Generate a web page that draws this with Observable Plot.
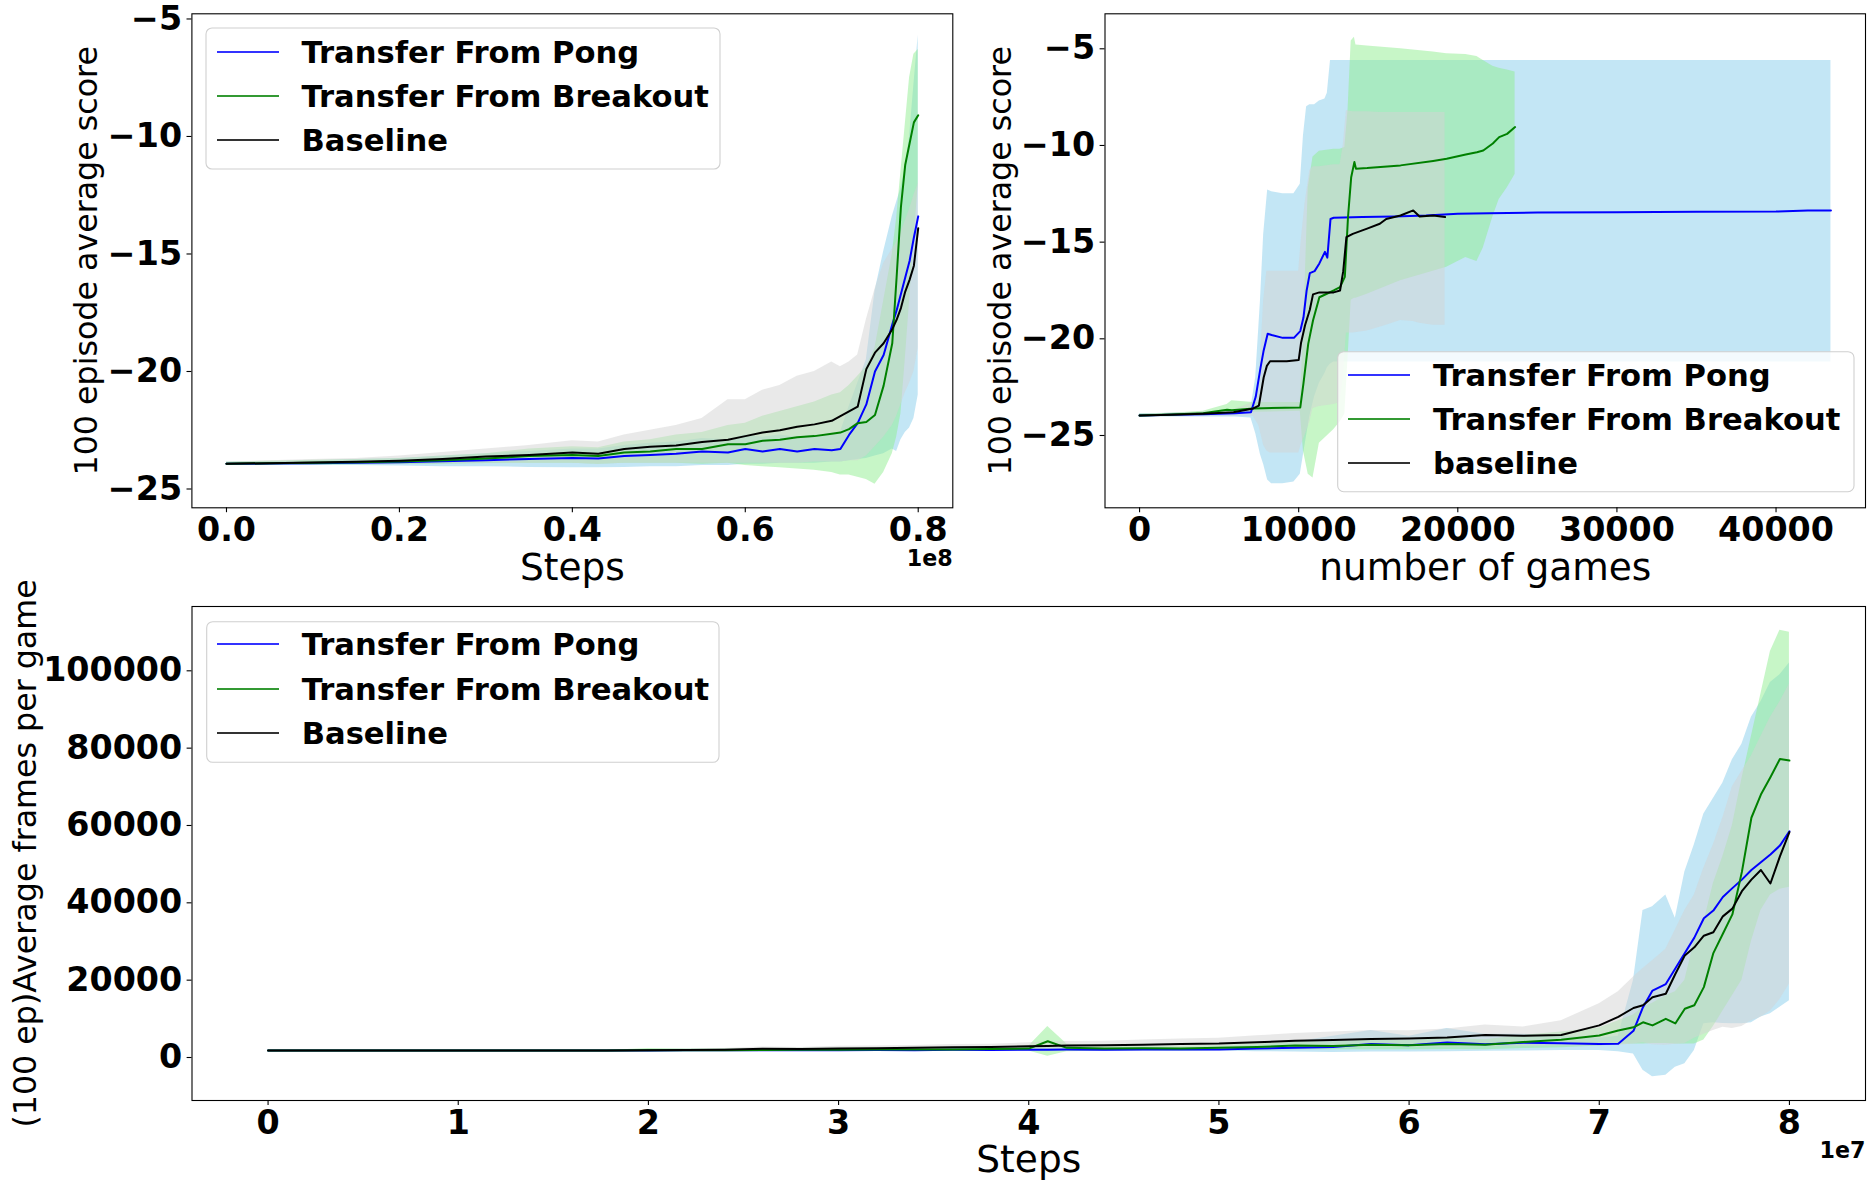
<!DOCTYPE html>
<html>
<head>
<meta charset="utf-8">
<script src="https://cdn.jsdelivr.net/npm/d3@7"></script>
<script src="https://cdn.jsdelivr.net/npm/@observablehq/plot@0.6"></script>
<style>
html, body { margin: 0; padding: 0; background: #fff; }
#fig { position: relative; width: 1875px; height: 1187px; overflow: hidden; background: #fff; font-family: 'DejaVu Sans', sans-serif; }
.panel { position: absolute; }
.panel svg { display: block; overflow: visible; max-width: none !important; }
#overlay { position: absolute; left: 0; top: 0; pointer-events: none; }
</style>
</head>
<body>
<div id="fig"></div>
<script>
// ---------------- Top-left: score vs steps (steps in millions) ----------------
const tlSteps = [0,5,10,15,20,25,30,35,40,43,46,49,52,55,58,60,62,64,66,68,70,71,72,73,74,75,76,77,77.5,78,78.5,79,79.5,80];
const tlPongMean = [-23.93,-23.92,-23.9,-23.88,-23.86,-23.82,-23.78,-23.72,-23.68,-23.7,-23.6,-23.55,-23.5,-23.4,-23.45,-23.3,-23.4,-23.3,-23.4,-23.3,-23.35,-23.3,-22.7,-22.2,-21.4,-20.0,-19.3,-18.0,-17.4,-16.7,-16.0,-15.3,-14.3,-13.4];
const tlPongLo = [-24.0,-24.0,-24.0,-24.0,-24.02,-24.05,-24.05,-24.08,-24.1,-24.1,-24.08,-24.05,-24.05,-24.0,-24.0,-23.95,-23.95,-23.9,-23.9,-23.9,-23.85,-23.85,-23.8,-23.75,-23.7,-23.6,-23.5,-23.3,-23.4,-22.9,-22.6,-22.4,-22.0,-21.0];
const tlPongHi = [-23.86,-23.84,-23.8,-23.75,-23.7,-23.6,-23.5,-23.4,-23.3,-23.3,-23.15,-23.05,-23.0,-22.85,-22.9,-22.7,-22.8,-22.7,-22.8,-22.7,-22.7,-22.6,-21.5,-20.5,-19.5,-16.6,-14.9,-13.4,-12.8,-12.2,-11.3,-10.0,-7.8,-5.7];
const tlBrkMean = [-23.93,-23.9,-23.88,-23.86,-23.83,-23.78,-23.7,-23.6,-23.55,-23.6,-23.45,-23.4,-23.3,-23.3,-23.1,-23.1,-22.95,-22.9,-22.8,-22.75,-22.65,-22.6,-22.45,-22.2,-22.15,-21.85,-20.6,-18.8,-16.0,-13.0,-11.2,-10.3,-9.4,-9.1];
const tlBrkLo = [-24.0,-24.0,-23.98,-23.97,-23.96,-23.95,-23.92,-23.9,-23.9,-23.95,-23.9,-23.9,-23.9,-23.95,-23.9,-24.0,-24.05,-24.1,-24.15,-24.2,-24.3,-24.4,-24.4,-24.5,-24.6,-24.8,-24.3,-23.5,-22.8,-21.8,-19.5,-17.0,-14.5,-12.0];
const tlBrkHi = [-23.86,-23.82,-23.78,-23.75,-23.7,-23.6,-23.5,-23.3,-23.2,-23.25,-23.0,-22.9,-22.7,-22.6,-22.3,-22.2,-21.9,-21.7,-21.5,-21.3,-21.0,-20.9,-20.6,-20.2,-19.8,-19.0,-17.0,-15.0,-13.5,-11.5,-9.5,-7.5,-6.5,-6.3];
const tlBaseMean = [-23.93,-23.9,-23.87,-23.84,-23.8,-23.72,-23.62,-23.55,-23.45,-23.5,-23.3,-23.2,-23.15,-23.0,-22.9,-22.75,-22.6,-22.5,-22.35,-22.25,-22.1,-21.9,-21.7,-21.5,-19.9,-19.2,-18.8,-18.2,-17.8,-17.3,-16.6,-16.1,-15.5,-13.9];
const tlBaseLo = [-24.0,-23.98,-23.96,-23.95,-23.95,-23.93,-23.9,-23.9,-23.9,-23.95,-23.9,-23.9,-23.9,-23.9,-23.9,-23.9,-23.9,-23.9,-23.9,-23.85,-23.85,-23.85,-23.8,-23.8,-23.6,-23.2,-22.8,-22.3,-21.9,-21.4,-20.9,-20.5,-20.0,-19.0];
const tlBaseHi = [-23.86,-23.8,-23.75,-23.7,-23.6,-23.45,-23.3,-23.15,-22.95,-23.0,-22.7,-22.5,-22.3,-22.0,-21.2,-21.2,-20.8,-20.6,-20.2,-20.0,-19.6,-19.8,-19.6,-19.3,-17.8,-16.5,-15.4,-14.8,-14.5,-14.1,-13.6,-13.1,-12.5,-12.0];
const tlXTicks = [0,20,40,60,80];
const tlYTicks = [-25,-20,-15,-10,-5];

// ---------------- Top-right: score vs number of games ----------------
const trPongGames = [0,2000,4000,6000,7000,7300,7600,7800,8050,8300,9000,9700,10100,10300,10500,10700,11000,11300,11650,11800,12000,12200,14000,16000,18000,20000,22000,25000,30000,35000,40000,42000,43450];
const trPongMean = [-23.97,-23.93,-23.9,-23.85,-23.8,-23.0,-21.5,-20.6,-19.74,-19.8,-19.95,-19.95,-19.6,-18.9,-17.5,-16.6,-16.5,-16.1,-15.5,-15.8,-13.8,-13.74,-13.7,-13.67,-13.62,-13.53,-13.5,-13.47,-13.45,-13.43,-13.42,-13.36,-13.36];
const trPongLo = [-24.05,-24.05,-24.05,-24.05,-24.1,-24.9,-26.0,-26.5,-27.3,-27.5,-27.5,-27.4,-27.0,-26.0,-25.0,-24.0,-23.0,-22.3,-21.8,-21.5,-21.3,-21.2,-21.2,-21.2,-21.2,-21.2,-21.2,-21.2,-21.2,-21.2,-21.2,-21.2,-21.2];
const trPongHi = [-23.88,-23.85,-23.8,-23.75,-23.6,-22.0,-18.0,-14.6,-12.3,-12.4,-12.5,-12.5,-12.0,-9.5,-8.0,-7.9,-7.9,-7.7,-7.6,-7.3,-5.6,-5.6,-5.6,-5.6,-5.6,-5.6,-5.6,-5.6,-5.6,-5.6,-5.6,-5.6,-5.6];
const trBrkGames = [0,2000,4000,5500,5800,7150,10100,10300,10600,10900,11300,12200,12600,12900,13100,13300,13500,13600,14300,16400,18450,19300,20500,21200,21600,22200,22600,23100,23600];
const trBrkMean = [-23.97,-23.92,-23.85,-23.67,-23.7,-23.6,-23.55,-22.3,-20.26,-19.05,-17.85,-17.5,-17.33,-16.8,-13.7,-11.64,-10.86,-11.2,-11.17,-11.03,-10.8,-10.69,-10.47,-10.35,-10.26,-9.9,-9.57,-9.4,-9.05];
const trBrkLo = [-24.05,-24.0,-23.95,-23.9,-23.85,-23.8,-23.75,-25.8,-27.0,-27.2,-25.4,-24.7,-24.3,-23.9,-21.0,-18.0,-17.9,-17.9,-17.7,-17.0,-16.5,-16.3,-15.8,-16.0,-15.3,-13.7,-12.8,-12.2,-11.5];
const trBrkHi = [-23.9,-23.85,-23.75,-23.4,-23.2,-23.3,-23.3,-19.7,-12.2,-10.6,-10.3,-10.2,-10.2,-10.1,-8.2,-4.6,-4.4,-4.8,-4.85,-5.0,-5.17,-5.25,-5.3,-5.4,-5.6,-5.9,-6.0,-6.1,-6.2];
const trBaseGames = [0,2000,4000,5900,7150,7500,7800,8000,8200,9250,10000,10150,10400,10700,10900,11300,12200,12600,12800,13000,13400,14300,15100,15500,16400,17200,17600,18450,19200];
const trBaseMean = [-23.97,-23.93,-23.88,-23.8,-23.6,-23.45,-22.0,-21.4,-21.16,-21.16,-21.1,-20.2,-19.3,-18.5,-17.7,-17.6,-17.6,-17.5,-16.5,-14.74,-14.57,-14.3,-14.05,-13.8,-13.62,-13.36,-13.67,-13.62,-13.7];
const trBaseLo = [-24.05,-24.03,-24.0,-24.0,-24.0,-24.5,-25.5,-25.8,-25.9,-25.9,-25.9,-25.5,-25.0,-24.3,-23.6,-23.5,-23.4,-23.3,-22.0,-19.7,-19.7,-19.6,-19.4,-19.3,-19.05,-19.1,-19.2,-19.3,-19.3];
const trBaseHi = [-23.9,-23.85,-23.78,-23.65,-23.3,-22.5,-18.0,-16.5,-16.5,-16.5,-16.5,-15.0,-13.0,-11.3,-11.1,-11.1,-11.0,-11.0,-10.0,-8.2,-8.25,-8.25,-8.3,-8.3,-8.3,-8.3,-8.3,-8.3,-8.3];
const trXTicks = [0,10000,20000,30000,40000];
const trYTicks = [-25,-20,-15,-10,-5];

// ---------------- Bottom: frames per game vs steps (steps in millions) ----------------
const btSteps = [0,5,10,15,17.8,20,22,24,26,28,30,32,34,36,38,40,41,42,44,46,48,50,52,54,56,58,60,62,64,66,68,70,71,71.8,72.3,72.8,73.5,74,74.5,75,75.5,76,76.5,77,77.5,78,78.5,79,79.5,80];
const btPongMean = [1800,1800,1800,1800,1800,1800,1850,1850,1900,1850,1900,1950,1900,2000,1950,2000,2000,2050,2000,2100,2050,2100,2300,2500,2700,3500,3200,3900,3400,3800,3700,3500,3550,6900,13000,17300,19000,23000,27000,31000,36000,38000,41500,43800,46000,48500,50500,52500,54800,58500];
const btPongLo = [1800,1800,1800,1800,1800,1500,1550,1550,1600,1550,1600,1600,1550,1650,1600,1650,1650,1650,1600,1650,1600,1650,1500,1400,1300,1400,1400,1500,1600,1700,1800,1800,1500,900,-3300,-5000,-4600,-2500,-1600,1800,8700,9000,8800,8700,8700,9000,10500,11300,13000,14700];
const btPongHi = [1800,1800,1800,1800,1800,2100,2150,2150,2200,2150,2200,2300,2250,2400,2300,2400,2400,2450,2400,2600,2500,2700,3200,4000,5500,7000,5500,7500,6000,6000,5500,5000,5500,20000,38000,39000,42000,36000,48000,55000,63000,67000,71000,77000,81000,88000,92000,97000,99000,102000];
const btBrkMean = [1800,1800,1800,1800,1800,1900,1850,1900,1950,2000,2000,2050,2100,2100,2200,2300,4200,2500,2300,2400,2300,2500,2700,3100,3000,3300,3200,3500,3300,4000,4600,5700,7000,7800,9100,8300,10000,8800,12600,13500,18200,27000,32000,37000,48000,62000,68000,72500,77200,76800];
const btBrkLo = [1800,1800,1800,1800,1800,1500,1500,1550,1550,1600,1600,1600,1650,1650,1700,1700,300,1500,1700,1750,1700,1800,1900,2000,2000,2000,2000,2100,2000,2300,2500,3000,3400,3500,3500,3600,3600,3500,3500,3500,4500,8000,12000,16000,20000,30000,38000,42000,43500,44000];
const btBrkHi = [1800,1800,1800,1800,1800,2300,2200,2250,2350,2400,2400,2500,2550,2550,2700,2900,8000,3500,2900,3000,2900,3200,3500,4200,4000,4600,4400,4900,4600,5700,6600,7600,9500,11000,13000,14000,16000,17000,20000,30000,35000,45000,52000,60000,72000,83000,94000,105000,110500,110000];
const btBaseMean = [1800,1800,1800,1800,1800,1900,1950,2000,2250,2200,2350,2400,2500,2650,2700,2900,3000,3100,3150,3300,3500,3600,3950,4300,4500,4800,4900,5200,5800,5600,5800,8300,10500,12800,13500,15600,16500,21600,26400,28500,31500,32400,36500,38500,43000,46000,48500,45000,52000,58300];
const btBaseLo = [1800,1800,1800,1800,1800,1700,1700,1750,1800,1800,1850,1850,1900,1950,1950,2000,2000,2050,2100,2100,2200,2200,2300,2400,2400,2500,2500,2600,2700,2800,2900,3000,3200,3500,3800,3300,3200,3400,3600,5000,6000,7000,7800,7500,8000,9500,10400,12000,15000,19000];
const btBaseHi = [1800,1800,1800,1800,1800,2100,2200,2300,2700,2600,2900,2950,3100,3350,3450,3800,4000,4150,4200,4500,4800,5000,5600,6200,6600,7000,6900,7400,8400,7900,9500,13900,17000,20800,23000,25000,28000,33000,38000,42000,49000,55000,62000,70000,74000,78000,83000,88000,92000,96600];
const btXTicks = [0,10,20,30,40,50,60,70,80];
const btYTicks = [0,20000,40000,60000,80000,100000];

// ---------------- Legend labels ----------------
const labelsTop = ["Transfer From Pong", "Transfer From Breakout", "Baseline"];
const labelsTopRight = ["Transfer From Pong", "Transfer From Breakout", "baseline"];
const seriesColors = ["blue", "green", "black"];
const bandColors = ["skyblue", "lightgreen", "lightgray"];

function rows(xs, m, lo, hi) {
  return xs.map((x, i) => ({x, m: m[i], lo: lo[i], hi: hi[i]}));
}

function makePanel(cfg) {
  const marks = [];
  cfg.series.forEach((s, k) => marks.push(Plot.areaY(s, {x: "x", y1: "lo", y2: "hi", fill: bandColors[k], fillOpacity: 0.5})));
  cfg.series.forEach((s, k) => marks.push(Plot.lineY(s, {x: "x", y: "m", stroke: seriesColors[k], strokeWidth: 2})));
  marks.push(Plot.frame({stroke: "black", strokeWidth: 1.1}));
  marks.push(Plot.axisX({ticks: cfg.xticks, tickFormat: cfg.xfmt, tickSize: 4.9, tickPadding: 4.9, fontSize: 33.3, fontWeight: "bold", label: null, strokeWidth: 1.1}));
  marks.push(Plot.axisY({ticks: cfg.yticks, tickFormat: cfg.yfmt, tickSize: 4.9, tickPadding: 4.9, fontSize: 33.3, fontWeight: "bold", label: null, strokeWidth: 1.1}));
  marks.push(Plot.text([cfg.xlabel], {text: d => d, frameAnchor: "bottom", textAnchor: "middle", lineAnchor: "middle", dy: 59.9, fontSize: 37.5, fontWeight: "normal"}));
  marks.push(Plot.text([cfg.ylabel], {text: d => d, frameAnchor: "left", textAnchor: "middle", lineAnchor: "middle", dx: cfg.ylabelDx, rotate: -90, fontSize: 31.7, fontWeight: "normal"}));
  if (cfg.offset) marks.push(Plot.text([cfg.offset], {text: d => d, frameAnchor: "bottom-right", textAnchor: "end", lineAnchor: "middle", dy: 50.6, fontSize: 22.2, fontWeight: "bold"}));
  const chart = Plot.plot({
    width: cfg.width, height: cfg.height,
    marginLeft: cfg.ml, marginRight: cfg.mr, marginTop: cfg.mt, marginBottom: cfg.mb,
    x: {domain: cfg.xdomain},
    y: {domain: cfg.ydomain},
    style: "font-family: 'DejaVu Sans', sans-serif; font-size: 33.3px; font-weight: bold; color: black; background: transparent; overflow: visible;",
    marks
  });
  const div = document.createElement("div");
  div.className = "panel";
  div.style.left = cfg.left + "px";
  div.style.top = cfg.top + "px";
  div.style.width = cfg.width + "px";
  div.style.height = cfg.height + "px";
  div.appendChild(chart);
  document.getElementById("fig").appendChild(div);
}

makePanel({
  left: 0, top: 0, width: 960, height: 600, ml: 191.4, mr: 7.7, mt: 13.3, mb: 92.7,
  xdomain: [-4, 84], ydomain: [-25.8, -4.78],
  xticks: tlXTicks, yticks: tlYTicks,
  xfmt: d => (d / 100).toFixed(1), yfmt: d3.format("d"),
  xlabel: "Steps", ylabel: "100 episode average score", ylabelDx: -105.4, offset: "1e8",
  series: [rows(tlSteps, tlPongMean, tlPongLo, tlPongHi), rows(tlSteps, tlBrkMean, tlBrkLo, tlBrkHi), rows(tlSteps, tlBaseMean, tlBaseLo, tlBaseHi)]
});

makePanel({
  left: 960, top: 0, width: 915, height: 600, ml: 144.5, mr: 10, mt: 13.3, mb: 92.7,
  xdomain: [-2172.5, 45622.5], ydomain: [-28.74, -3.19],
  xticks: trXTicks, yticks: trYTicks,
  xfmt: d3.format("d"), yfmt: d3.format("d"),
  xlabel: "number of games", ylabel: "100 episode average score", ylabelDx: -104.5, offset: null,
  series: [rows(trPongGames, trPongMean, trPongLo, trPongHi), rows(trBrkGames, trBrkMean, trBrkLo, trBrkHi), rows(trBaseGames, trBaseMean, trBaseLo, trBaseHi)]
});

makePanel({
  left: 0, top: 600, width: 1875, height: 587, ml: 191.5, mr: 10, mt: 6, mb: 87,
  xdomain: [-4, 84], ydomain: [-11120, 116630],
  xticks: btXTicks, yticks: btYTicks,
  xfmt: d => d3.format("d")(d / 10), yfmt: d3.format("d"),
  xlabel: "Steps", ylabel: "(100 ep)Average frames per game", ylabelDx: -166, offset: "1e7",
  series: [rows(btSteps, btPongMean, btPongLo, btPongHi), rows(btSteps, btBrkMean, btBrkLo, btBrkHi), rows(btSteps, btBaseMean, btBaseLo, btBaseHi)]
});

// ---------------- Legends (overlay) ----------------
const legends = [
  {x: 206, y: 28, w: 514, h: 141, lx0: 217, lx1: 279, tx: 301.5, ly: [52, 96, 140], labels: labelsTop},
  {x: 1337.7, y: 351.7, w: 516.3, h: 140, lx0: 1348, lx1: 1410, tx: 1433, ly: [375, 419, 463], labels: labelsTopRight},
  {x: 206.7, y: 621.7, w: 512.3, h: 140.6, lx0: 217, lx1: 279, tx: 301.7, ly: [644, 689, 733], labels: labelsTop}
];
const ov = d3.select("#fig").append("svg").attr("id", "overlay").attr("width", 1875).attr("height", 1187);
legends.forEach(L => {
  const g = ov.append("g");
  g.append("rect").attr("x", L.x).attr("y", L.y).attr("width", L.w).attr("height", L.h)
    .attr("rx", 6).attr("ry", 6).attr("fill", "white").attr("fill-opacity", 0.8)
    .attr("stroke", "#d0d0d0").attr("stroke-width", 1.1);
  L.labels.forEach((lab, i) => {
    g.append("line").attr("x1", L.lx0).attr("x2", L.lx1).attr("y1", L.ly[i]).attr("y2", L.ly[i])
      .attr("stroke", seriesColors[i]).attr("stroke-width", 2).attr("stroke-opacity", 0.8);
    g.append("text").attr("x", L.tx).attr("y", L.ly[i] + 11)
      .attr("font-family", "'DejaVu Sans', sans-serif").attr("font-size", 30.6).attr("font-weight", "bold")
      .attr("fill", "black").text(lab);
  });
});
</script>
</body>
</html>
